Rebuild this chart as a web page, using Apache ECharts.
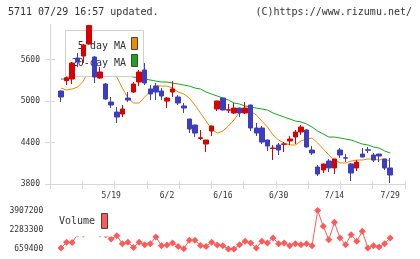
<!DOCTYPE html>
<html>
<head>
<meta charset="utf-8">
<script src="https://cdn.jsdelivr.net/npm/echarts@6/dist/echarts.min.js"></script>
<style>
    html, body { margin: 0; padding: 0; background: #fff; }
    #main { width: 420px; height: 259px; }
</style>
</head>
<body>
<div id="main"></div>
<script>
// 日付 (60営業日)
var dates = ['5/2', '5/7', '5/8', '5/9', '5/12', '5/13', '5/14', '5/15', '5/16', '5/19',
    '5/20', '5/21', '5/22', '5/23', '5/26', '5/27', '5/28', '5/29', '5/30', '6/2',
    '6/3', '6/4', '6/5', '6/6', '6/9', '6/10', '6/11', '6/12', '6/13', '6/16',
    '6/17', '6/18', '6/19', '6/20', '6/23', '6/24', '6/25', '6/26', '6/27', '6/30',
    '7/1', '7/2', '7/3', '7/4', '7/7', '7/8', '7/9', '7/10', '7/11', '7/14',
    '7/15', '7/16', '7/17', '7/18', '7/22', '7/23', '7/24', '7/25', '7/28', '7/29'];
var xTickLabels = ['5/19', '6/2', '6/16', '6/30', '7/14', '7/29'];

// 四本値
var opens = [5147, 5296, 5320, 5625, 5653, 5827, 5639, 5335, 5248, 4987,
    4842, 4813, 5045, 5132, 5277, 5451, 5176, 5219, 5147, 5001,
    5132, 5060, 4930, 4741, 4654, 4459, 4379, 4567, 4886, 5045,
    4868, 4828, 4900, 4828, 4944, 4611, 4611, 4437, 4315, 4365,
    4375, 4423, 4481, 4553, 4582, 4292, 4046, 4003, 4133, 4032,
    4292, 4180, 4090, 4032, 4234, 4295, 4220, 4234, 4162, 4032];
var closes = [5060, 5339, 5552, 5567, 5813, 6095, 5349, 5422, 5031, 4944,
    4770, 4886, 5016, 5248, 5422, 5263, 5103, 5132, 5074, 5045,
    5176, 4973, 4900, 4596, 4538, 4470, 4437, 4640, 5002, 4872,
    4875, 4900, 4828, 4900, 4611, 4538, 4408, 4350, 4321, 4292,
    4380, 4452, 4553, 4625, 4336, 4249, 3945, 4090, 4032, 4162,
    4220, 4174, 3959, 4118, 4191, 4289, 4147, 4205, 4032, 3930];
var lows = [4987, 5234, 5248, 5494, 5552, 5815, 5263, 5320, 5016, 4900,
    4683, 4770, 4987, 5118, 5219, 5234, 5016, 5016, 5016, 4900,
    5060, 4944, 4828, 4538, 4480, 4437, 4263, 4495, 4857, 4865,
    4828, 4813, 4770, 4813, 4567, 4495, 4379, 4278, 4147, 4220,
    4263, 4365, 4379, 4510, 4330, 4220, 3916, 3959, 3974, 3945,
    4177, 4118, 3843, 3988, 4185, 4249, 4118, 4118, 4003, 3814];
var highs = [5154, 5357, 5566, 5697, 5827, 6105, 5653, 5494, 5263, 5060,
    4915, 4944, 5132, 5277, 5451, 5552, 5234, 5263, 5190, 5060,
    5291, 5089, 4973, 4745, 4660, 4582, 4440, 4645, 5005, 5048,
    4958, 4973, 4905, 4987, 4950, 4683, 4640, 4440, 4365, 4394,
    4408, 4495, 4582, 4654, 4596, 4350, 4075, 4095, 4162, 4165,
    4321, 4234, 4104, 4147, 4321, 4336, 4249, 4237, 4165, 4177];

// 移動平均
var ma5 = [5190, 5161, 5176, 5205, 5291, 5451, 5653, 5682, 5653, 5538,
    5349, 5190, 5045, 4973, 4973, 5060, 5147, 5219, 5219, 5219,
    5190, 5132, 5103, 5045, 4944, 4828, 4712, 4596, 4538, 4567,
    4640, 4727, 4843, 4886, 4857, 4799, 4712, 4625, 4510, 4437,
    4394, 4365, 4365, 4423, 4452, 4466, 4394, 4307, 4220, 4147,
    4104, 4104, 4133, 4147, 4147, 4162, 4162, 4147, 4162, 4133];
var ma20 = [5320, 5320, 5349, 5364, 5378, 5393, 5407, 5407, 5407, 5393,
    5393, 5378, 5364, 5349, 5335, 5320, 5306, 5291, 5277, 5277,
    5262, 5248, 5233, 5219, 5190, 5176, 5132, 5103, 5074, 5045,
    5016, 4973, 4958, 4929, 4915, 4900, 4886, 4871, 4828, 4799,
    4770, 4741, 4712, 4698, 4669, 4625, 4567, 4524, 4480, 4480,
    4466, 4451, 4437, 4408, 4379, 4365, 4336, 4321, 4278, 4249];

// 出来高
var volumes = [744200, 1219100, 1210000, 1914400, 1900000, 2200000, 2150000, 1920000, 1872000, 1507400,
    1787200, 1108800, 1219100, 795100, 1219100, 1024000, 1108800, 1677000, 939200, 998600,
    1168200, 879900, 684800, 1388700, 1388700, 964700, 879900, 1219100, 998600, 939200,
    659400, 662000, 1024000, 1303900, 1168200, 744200, 1303900, 1168200, 1592200, 1108800,
    1168200, 939200, 1108800, 1024000, 1108800, 939200, 3907200, 2575900, 1448000, 2915100,
    1592200, 1024000, 1872000, 1303900, 2151900, 744200, 939200, 829000, 1108800, 1592200];

var priceTicks = [3800, 4400, 5000, 5600];
var volumeTicks = [659400, 2283300, 3907200];

var upColor = '#d90000';
var downColor = '#3d3dbf';
var ma5Color = '#f08c00';
var ma20Color = '#1aa51a';
var volColor = '#ff5a5a';
var axisColor = '#d8d8d8';
var textColor = '#333';
var mono = '"DejaVu Sans Mono", "Liberation Mono", monospace';

//カンマ無しで表示
function plain(v) {
    return String(v);
}

var candleData = [];
for (var i = 0; i < dates.length; i++) {
    candleData.push([opens[i], closes[i], lows[i], highs[i]]);
}

var myChart = echarts.init(document.getElementById('main'), null, { renderer: 'canvas' });

var option = {
    animation: false,
    backgroundColor: '#fff',
    grid: [
        { left: 58.2, right: 27, top: 24.5, bottom: 75 },   // ローソク足
        { left: 50, right: 15, top: 24.5, bottom: 75 },     // 軸の枠
        { left: 58.2, right: 27, top: 210.5, bottom: 10 }  // 出来高
    ],
    xAxis: [
        {
            gridIndex: 0, type: 'category', data: dates, boundaryGap: true,
            axisLine: { show: false }, axisTick: { show: false },
            splitLine: { show: false },
            axisLabel: {
                margin: 8, fontSize: 8, fontFamily: mono, color: textColor,
                interval: function (idx, value) {
                    return xTickLabels.indexOf(value) >= 0;
                }
            }
        },
        {
            gridIndex: 1, type: 'value', min: 0, max: 11, interval: 1, position: 'bottom',
            axisLine: { show: true, lineStyle: { color: axisColor, width: 1 } },
            axisTick: { show: true, inside: true, length: 3, lineStyle: { color: axisColor } },
            axisLabel: { show: false }, splitLine: { show: false }
        },
        {
            gridIndex: 1, type: 'value', min: 0, max: 11, interval: 1, position: 'bottom',
            axisLine: { show: false },
            axisTick: { show: true, inside: false, length: 5, lineStyle: { color: axisColor } },
            axisLabel: { show: false }, splitLine: { show: false }
        },
        {
            gridIndex: 2, type: 'category', data: dates, boundaryGap: true, show: false
        }
    ],
    yAxis: [
        { gridIndex: 0, type: 'value', min: 3800, max: 6110, show: false, splitLine: { show: false } },
        {
            gridIndex: 1, type: 'value', min: 3800, max: 6110, position: 'left',
            axisLine: { show: true, lineStyle: { color: axisColor, width: 1 } },
            axisTick: { show: true, inside: true, length: 5, customValues: priceTicks, lineStyle: { color: axisColor } },
            axisLabel: { customValues: priceTicks, formatter: plain, margin: 10, fontSize: 8, fontFamily: mono, color: textColor },
            splitLine: { show: false }
        },
        {
            gridIndex: 1, type: 'value', min: 3800, max: 6110, position: 'left',
            axisLine: { show: false },
            axisTick: { show: true, inside: false, length: 5, customValues: priceTicks, lineStyle: { color: axisColor } },
            axisLabel: { show: false },
            splitLine: { show: false }
        },
        {
            gridIndex: 2, type: 'value', min: 659400, max: 3907200,
            axisLine: { show: false }, axisTick: { show: false },
            axisLabel: { customValues: volumeTicks, formatter: plain, margin: 15, fontSize: 8, fontFamily: mono, color: textColor },
            splitLine: { show: false }
        }
    ],
    series: [
        {
            name: 'MA20', type: 'line', xAxisIndex: 0, yAxisIndex: 0, data: ma20,
            symbol: 'none', silent: true, z: 2,
            lineStyle: { color: ma20Color, width: 1 }
        },
        {
            name: 'MA5', type: 'line', xAxisIndex: 0, yAxisIndex: 0, data: ma5,
            symbol: 'none', silent: true, z: 2,
            lineStyle: { color: ma5Color, width: 1 }
        },
        {
            name: 'price', type: 'candlestick', xAxisIndex: 0, yAxisIndex: 0, data: candleData,
            barWidth: 5, z: 5,
            itemStyle: {
                color: upColor, color0: downColor,
                borderColor: upColor, borderColor0: downColor, borderWidth: 1
            }
        },
        {
            name: 'Volume', type: 'line', xAxisIndex: 3, yAxisIndex: 3, data: volumes,
            symbol: 'diamond', symbolSize: 7, showAllSymbol: true, z: 2,
            itemStyle: { color: volColor },
            lineStyle: { color: volColor, width: 1 }
        }
    ],
    graphic: [
        // ヘッダー
        { type: 'text', z: 10, style: { text: '5711 07/29 16:57 updated.', x: 8, y: 12.5, font: '10px ' + mono, fill: textColor, textVerticalAlign: 'middle' } },
        { type: 'text', z: 10, style: { text: '(C)https://www.rizumu.net/', x: 412, y: 12.5, font: '10px ' + mono, fill: textColor, textAlign: 'right', textVerticalAlign: 'middle' } },
        // 移動平均の凡例
        { type: 'rect', z: 3, shape: { x: 65.5, y: 30.5, width: 78, height: 46 }, style: { fill: '#fff', stroke: '#cfcfcf', lineWidth: 1 } },
        { type: 'text', z: 3, style: { text: '5 day MA', x: 126, y: 46.5, font: '10px ' + mono, fill: textColor, textAlign: 'right', textVerticalAlign: 'middle' } },
        { type: 'text', z: 3, style: { text: '20-day MA', x: 126, y: 63, font: '10px ' + mono, fill: textColor, textAlign: 'right', textVerticalAlign: 'middle' } },
        { type: 'rect', z: 3, shape: { x: 131.5, y: 37.5, width: 6, height: 12 }, style: { fill: ma5Color, stroke: '#444', lineWidth: 1 } },
        { type: 'rect', z: 3, shape: { x: 131.5, y: 54.5, width: 6, height: 12 }, style: { fill: ma20Color, stroke: '#444', lineWidth: 1 } },
        // 出来高の凡例
        { type: 'rect', z: 3, shape: { x: 55, y: 203, width: 57, height: 33.5 }, style: { fill: '#fff' } },
        { type: 'text', z: 3, style: { text: 'Volume', x: 59, y: 221.5, font: '10px ' + mono, fill: textColor, textVerticalAlign: 'middle' } },
        { type: 'rect', z: 3, shape: { x: 101.5, y: 213.5, width: 6, height: 15 }, style: { fill: volColor, stroke: '#444', lineWidth: 1 } }
    ]
};
myChart.setOption(option);
</script>
</body>
</html>
